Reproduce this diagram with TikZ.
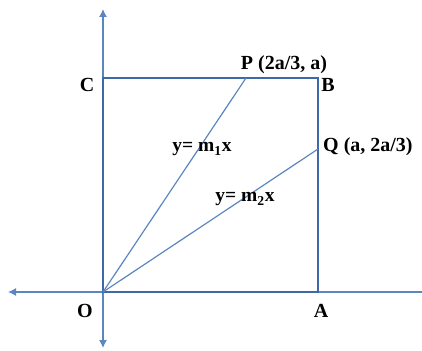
\documentclass[tikz,border=0pt]{standalone}
\usepackage{fontspec}
\setmainfont{Liberation Serif}
\usepackage{xcolor}
\usetikzlibrary{arrows.meta, positioning}

\definecolor{axisblue}{HTML}{5B86C0}
\definecolor{boxblue}{HTML}{3F69A6}

\begin{document}
\begin{tikzpicture}[
  x=1pt, y=1pt,
  axis/.style={draw=axisblue, line width=1.3pt, -{Latex[length=8pt, width=8pt]}},
  side/.style={draw=boxblue, line width=2.8pt},
  ray/.style={draw=axisblue, line width=1.2pt},
  lbl/.style={font=\fontsize{20}{24}\selectfont\bfseries, inner sep=0pt, anchor=base},
  eq/.style={font=\fontsize{19.5}{24}\selectfont\bfseries, inner sep=0pt, anchor=base}
]
  \useasboundingbox (0,0) rectangle (422,350);

  % corners of the square
  \coordinate (O) at (103,58);
  \coordinate (A) at (318,58);
  \coordinate (B) at (318,272);
  \coordinate (C) at (103,272);
  \coordinate (P) at (246,272);
  \coordinate (Q) at (318,201);

  % axes
  \coordinate (xl) at (8,58);
  \coordinate (xr) at (432,58);
  \coordinate (yt) at (103,341);
  \coordinate (yb) at (103,2);
  \draw[axis] (O) -- (xl);
  \draw[axis] (O) -- (xr);
  \draw[axis] (O) -- (yt);
  \draw[axis] (O) -- (yb);

  % square and rays
  \draw[side] (O) -- (A) -- (B) -- (C) -- cycle;
  \draw[ray] (O) -- (P);
  \draw[ray] (O) -- (Q);

  \node[lbl] (lO) at (85,32) {O};
  \node[lbl] (lA) at (321,32) {A};
  \node[lbl] (lB) at (328,258) {B};
  \node[lbl] (lC) at (87,258) {C};
  \node[lbl] (lP) at (284,280) {P (2a/3, a)};
  \node[lbl, anchor=base west] (lQ) at (323,198) {Q (a, 2a/3)};
  \node[eq] (m1) at (202,198) {y= m\textsubscript{1}x};
  \node[eq] (m2) at (245,148) {y= m\textsubscript{2}x};
\end{tikzpicture}
\end{document}
